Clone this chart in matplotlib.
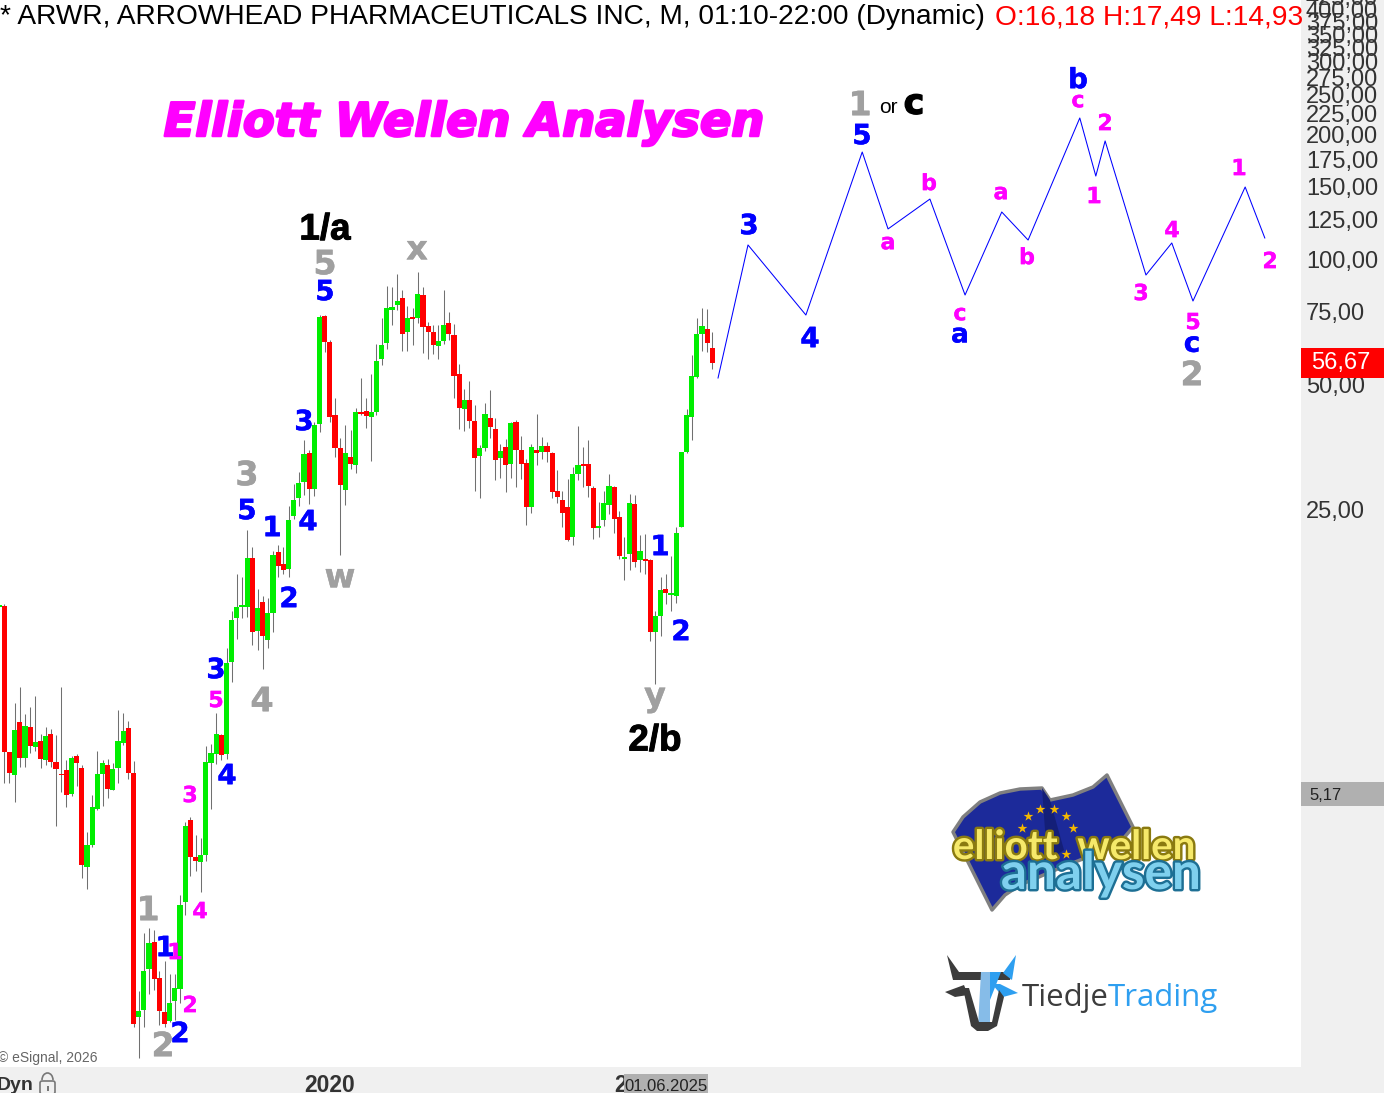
import matplotlib
matplotlib.use('Agg')
import numpy as np
import matplotlib.pyplot as plt
import matplotlib.patheffects as pe
from matplotlib.patches import Polygon, Rectangle, FancyBboxPatch, Arc
from matplotlib.ticker import FixedLocator, FuncFormatter, NullLocator

plt.rcParams['font.family'] = ['Liberation Sans', 'DejaVu Sans']

# monthly candles, first bar is number 0
opens = [14.6,14.68,6.546,5.751,7.716,6.331,7.505,6.73,6.944,6.25,7.219,6.181,5.783,5.913,5.176,6.39,5.979,3.453,3.901,4.763,
         5.783,6.079,5.292,5.979,6.868,7.464,5.815,1.503,1.562,1.961,2.278,1.866,1.545,1.47,1.642,1.755,2.844,4.481,3.65,3.55,
         3.691,6.147,6.461,7.179,6.461,10.76,13.74,14.6,14.6,19.16,12.78,15.01,12.16,14.12,19.81,18.53,18.02,24.18,26.72,29.2,
         34.29,28.09,40.28,73.31,63.46,42.34,35.26,27.93,33.54,32.09,43.05,43.29,41.87,43.05,57.75,63.11,75.79,77.92,81,67.08,
         72.9,72.5,82.36,69.35,67.08,62.07,63.82,70.51,65.98,53.14,43.77,46.01,40.95,33.73,35.26,41.64,39.17,33.36,35.45,32.26,
         40.73,34.87,32.44,25.42,34.87,34.48,35.65,34.29,27.78,26.43,25.42,21.52,30.52,32.26,32.26,28.24,22.63,23.65,25.7,28.4,
         24.05,19.05,19.59,25.85,18.95,19.05,18.95,12.71,13.89,16.13,15.6,15.52,22.75,34.48,41.87,52.27,66.34,68.21,61.39]
highs = [14.84,14.84,6.546,8.558,9.351,8.051,8.385,8.913,7.219,7.505,7.422,7.179,9.351,6.25,6.39,6.461,6.079,4.193,5.147,6.57,
         6.25,6.285,6.147,8.247,8.111,7.759,6.215,1.736,2.395,2.462,2.435,1.94,2.05,1.908,1.908,2.956,4.432,4.556,4.123,4.055,
         6.755,6.83,8.111,7.219,11.63,14.28,17.53,17.24,22.38,20.36,16.13,15.52,15.35,19.92,20.59,20.36,25.56,28.88,30.86,36.86,
         34.87,40.73,73.71,73.71,64.17,46.52,37.27,40.05,38.96,44.01,51.98,46.52,53.14,62.76,72.5,86.57,86.09,92.53,84.67,77.49,
         76.63,93.56,86.09,70.91,69.74,69.74,84.67,74.95,70.12,56.17,48.9,51.12,44.75,35.85,45.25,48.63,41.64,36.05,37.06,40.73,
         41.18,37.68,33.17,36.05,42.57,37.47,36.45,34.48,31.21,27.78,29.69,31.73,39.83,35.45,36.86,28.56,26.13,27.78,30.52,28.56,
         24.86,21.52,27.32,27.17,21.76,21.88,19.05,14.28,17.24,17.53,19.37,22.75,34.48,43.77,59.05,72.5,76.63,76.21,67.08]
lows = [14.6,5.491,5.512,4.961,6.023,6.023,6.509,6.57,5.99,6.079,6.023,4.334,5.234,4.816,5.119,5.411,3.249,3.056,3.858,4.737,
        4.843,5.063,5.292,5.502,6.792,5.625,1.425,1.197,1.422,1.707,1.746,1.438,1.422,1.462,1.478,1.624,2.646,3.285,3.377,3.006,
        3.57,4.763,6.113,6.25,6.285,9.632,12.23,13.74,13.84,11.83,11.5,10.35,11.63,12.71,17.24,17.53,17.24,23.78,25.56,27.17,
        25.85,27.02,38.53,60.04,40.73,33.54,19.48,25.7,31.38,30.69,42.34,39.39,32.81,42.34,55.86,61.05,69.74,75.79,60.37,60.37,
        62.42,70.51,59.71,57.75,59.38,57.75,62.76,64.17,46.52,39.17,38.74,39.39,27.78,26.72,34.68,37.27,29.52,29.85,27.62,29.85,
        28.4,29.69,23,24.59,32.09,33.17,32.62,26.72,25.99,22.75,21.05,20.59,29.52,28.4,26.87,21.29,21.52,22.88,24.45,22.01,
        19.05,16.96,17.92,18.23,17.73,17.53,12.09,9.526,12.43,14.84,14.28,14.93,22.75,34.29,36.86,51.98,60.37,60.04,54.74]
closes = [14.76,6.546,5.826,7.381,6.331,7.547,6.767,6.906,6.285,7.14,6.193,5.946,5.741,5.147,6.32,6.147,3.492,3.901,4.816,5.783,
          6.147,5.322,5.946,6.944,7.34,5.815,1.446,1.554,1.94,2.266,1.856,1.554,1.446,1.624,1.765,2.797,4.334,3.65,3.57,3.691,
          6.181,6.497,7.219,6.426,10.7,13.58,14.6,14.76,19.16,12.71,14.52,12.43,14.12,19.48,18.33,17.92,23.65,26.43,29.04,34.1,
          28.09,40.05,72.9,63.46,41.87,35.26,28.72,34.29,32.26,43.05,42.57,42.1,43.05,57.12,62.42,76.63,77.06,79.66,66.34,72.5,
          72.1,82.82,68.97,67.08,62.42,63.82,69.74,66.34,52.56,44.01,46.01,40.95,33.36,35.26,42.57,39.61,32.99,34.68,32.09,40.5,
          34.87,32.26,25.42,35.45,34.29,35.65,34.48,27.62,26.87,24.59,21.17,30.52,32.09,31.91,28.56,22.63,22.88,25.99,28.56,23.78,
          19.37,19.26,25.99,18.74,19.92,18.84,12.71,13.89,16.04,15.78,15.78,22.01,34.48,42.34,52.56,66.34,69.35,63.11,56.49]
bar_no = list(range(len(opens)))

# projected wave count (bar number, price)
wave_x = [139.1,144.9,156.1,167,172,180.1,186.9,194,199.1,209.1,212.2,214,221.9,226.9,231,241.1,244.9]
wave_p = [51.98,108.7,73.71,182,118.8,140.2,82.36,130.5,111.7,219.8,159.3,193.5,92.02,109.9,79.66,149.9,113]

price_ticks = [25,50,75,100,125,150,175,200,225,250,275,300,325,350,375,400]
year_ticks = [64,124]
year_labels = ['2020','2025']
last_price = 56.67
prev_mark = 5.17

BLUE = '#0000ff'
PINK = '#ff00ff'
GRAY = '#a0a0a0'
BLACK = '#000000'

# (text, colour, x, y, size, stroke)
wave_labels = [
    ('5',GRAY,325,262,24,.3),('x',GRAY,417,250,24,.3),('3',GRAY,247,473,24,.3),('w',GRAY,340,578,24,.3),
    ('4',GRAY,262,699,24,.3),('1',GRAY,148,908,24,.3),('2',GRAY,163,1044,24,.3),('y',GRAY,655,702,24,.3),
    ('1',GRAY,860,103,24,.3),('2',GRAY,1192,373,24,.3),
    ('1/a',BLACK,325,226,26.5,.7),('2/b',BLACK,655,737,26.5,.7),('c',BLACK,914,104,25,1),
    ('5',BLUE,325,290,20,.3),('3',BLUE,304,420,20,.3),('5',BLUE,247,509,20,.3),('1',BLUE,272,526,20,.3),
    ('4',BLUE,308,520,20,.3),('2',BLUE,289,597,20,.3),('3',BLUE,216,668,20,.3),('4',BLUE,227,774,20,.3),
    ('1',BLUE,165,946,20,.3),('2',BLUE,180,1032,20,.3),('1',BLUE,660,545,20,.3),('2',BLUE,681,630,20,.3),
    ('3',BLUE,749,224,20,.3),('4',BLUE,810,337,20,.3),('5',BLUE,862,134,20,.3),('b',BLUE,1078,78,20,.3),
    ('a',BLUE,960,335,19,.3),('c',BLUE,1192,344,20,.3),
    ('5',PINK,216,699,16,.2),('3',PINK,190,794,16,.2),('4',PINK,200,910,16,.2),('1',PINK,175,951,16,.2),
    ('2',PINK,190,1004,16,.2),('a',PINK,888,243,16,.2),('b',PINK,929,182,16,.2),('c',PINK,960,314,16,.2),
    ('a',PINK,1001,193,16,.2),('b',PINK,1027,256,16,.2),('c',PINK,1078,101,16,.2),('2',PINK,1105,122,16,.2),
    ('1',PINK,1094,195,16,.2),('3',PINK,1141,292,16,.2),('4',PINK,1172,229,16,.2),('1',PINK,1239,167,16,.2),
    ('2',PINK,1270,260,16,.2),('5',PINK,1193,321,16,.2),
]


def price_to_px(p):
    return 260 - 125 * np.log2(p / 100)


def px_to_bar(px):
    return 1 + (px - 4.33) / 5.168


def px_to_price(py):
    return 100 * 2 ** ((260 - py) / 125)


fig = plt.figure(figsize=(13.84, 10.93), dpi=100, facecolor='#f0f0f0')
ax = fig.add_axes([0, 26 / 1093, 1301 / 1384, 1067 / 1093])
ax.set_yscale('log')
ax.set_xlim(px_to_bar(0), px_to_bar(1301))
ax.set_ylim(px_to_price(1067), px_to_price(0))
for s in ax.spines.values():
    s.set_visible(False)

colors = ['#00ee00' if c >= o else '#ff0000' for o, c in zip(opens, closes)]
bottoms = [min(o, c) for o, c in zip(opens, closes)]
heights = [abs(c - o) for o, c in zip(opens, closes)]
ax.vlines(bar_no, lows, highs, color='#707070', lw=0.75, zorder=1)
ax.bar(bar_no, heights, bottom=bottoms, width=1.0, color=colors, linewidth=0, antialiased=False, zorder=2)
ax.plot(wave_x, wave_p, color=BLUE, lw=0.75, zorder=3)

ax.yaxis.tick_right()
ax.yaxis.set_major_locator(FixedLocator(price_ticks))
ax.yaxis.set_minor_locator(NullLocator())
ax.yaxis.set_major_formatter(FuncFormatter(lambda v, pos: ('%.2f' % v).replace('.', ',')))
ax.tick_params(axis='y', which='major', length=0, pad=3.5, labelsize=17, labelcolor='#333333')
ax.set_xticks(year_ticks)
ax.set_xticklabels(year_labels, fontweight='bold')
ax.tick_params(axis='x', length=0, pad=5, labelsize=16.5, labelcolor='#333333')

# overlay in pixels for the notes, tags and logos
ov = fig.add_axes([0, 0, 1, 1], zorder=5)
ov.set_xlim(0, 1384)
ov.set_ylim(1093, 0)
ov.axis('off')

ov.text(0, 24, '* ARWR, ARROWHEAD PHARMACEUTICALS INC, M, 01:10-22:00 (Dynamic)', fontsize=20.25, color='#000000', va='baseline')
ov.text(995, 24, 'O:16,18 H:17,49 L:14,93', fontsize=20.25, color='#ff0000', va='baseline')
ov.text(1305, -1, '425,00', fontsize=17, color='#333333', va='center')

ov.text(464, 136, 'Elliott Wellen Analysen', fontsize=33.3, color=PINK, fontweight='bold', style='oblique',
        family='DejaVu Sans', ha='center', va='baseline', path_effects=[pe.withStroke(linewidth=1.8, foreground=PINK)])

for txt, col, x, y, size, st in wave_labels:
    k = 0.365
    if txt in ('a', 'c', 'x', 'w'):
        k = 0.28
    if txt == 'y':
        k = 0.12
    fam = 'DejaVu Sans'
    if col == BLACK and txt != 'c':
        fam = 'Liberation Sans'
    base = y + k * size * 100 / 72
    ov.text(x, base, txt, color=col, fontsize=size, fontweight='bold', family=fam, ha='center', va='baseline',
            path_effects=[pe.withStroke(linewidth=st, foreground=col)])
ov.text(888, 113, 'or', color=BLACK, fontsize=15, ha='center', va='baseline')

ov.text(-2, 1062, '\u00a9 eSignal, 2026', fontsize=10, color='#666666', va='baseline')
ov.text(-3, 1090, 'Dyn', fontsize=14, fontweight='bold', color='#333333', va='baseline')
ov.add_patch(FancyBboxPatch((40, 1081), 15, 13, boxstyle='round,pad=0,rounding_size=2', fc='none', ec='#777777', lw=1.2))
ov.add_patch(Arc((47.5, 1080), 11, 14, theta1=180, theta2=360, ec='#777777', lw=1.2))
ov.add_patch(Rectangle((46.5, 1086), 2, 5, fc='#777777', ec='none'))

# price tags
ty = price_to_px(last_price)
ov.add_patch(Rectangle((1301, ty - 14.5), 83, 30, fc='#ff0000', ec='none'))
ov.text(1341, ty + 1, ('%.2f' % last_price).replace('.', ','), color='white', fontsize=17, ha='center', va='center')
ty = price_to_px(prev_mark)
ov.add_patch(Rectangle((1301, ty - 12), 83, 24, fc='#b0b0b0', ec='none'))
ov.text(1309, ty + 1, ('%.2f' % prev_mark).replace('.', ','), color='#222222', fontsize=12, va='center')

# date tag
ov.add_patch(Rectangle((624, 1074), 84, 19, fc='#b0b0b0', ec='none'))
ov.text(666, 1091, '01.06.2025', color='#222222', fontsize=12, ha='center', va='baseline')

# flag logo
flag = [(953,832),(963,817),(980,802),(1000,793),(1020,789),(1042,788),(1050,800),(1073,795),(1093,787),(1107,775),
        (1133,827),(1118,845),(1060,868),(1020,885),(1005,895),(992,910),(972,870)]
ov.add_patch(Polygon(flag, closed=True, fc='#1c2a9a', ec='#808080', lw=2.5, joinstyle='round'))
ov.add_patch(Polygon([(1042,788),(1050,800),(1064,850),(1050,860),(1045,830)], closed=True, fc='#141f78', ec='none'))
stars = [(1028,816),(1040,809),(1054,809),(1066,816),(1073,828),(1022,828),(1066,854)]
ov.scatter([s[0] for s in stars], [s[1] for s in stars], marker='*', s=55, color='#f5b800', linewidths=0, zorder=3)
ov.text(1074, 859, 'elliott  wellen', fontsize=29, color='#f6e96a', ha='center', va='baseline', fontweight='bold',
        family='Lato', zorder=4, path_effects=[pe.withStroke(linewidth=3.5, foreground='#8a7a10')])
ov.text(1101, 889, 'analysen', fontsize=37, color='#7fd0ee', ha='center', va='baseline', fontweight='bold',
        family='Lato', zorder=4, path_effects=[pe.withStroke(linewidth=3.5, foreground='#1d6f94')])

# tiedje logo
dark = '#3c3c3c'
ov.add_patch(Polygon([(947,955),(959,972),(1003,972),(1012,973),(1010,980),(953,980),(951,972)], closed=True, fc=dark, ec='none'))
ov.add_patch(Polygon([(1016,955),(1012,980),(1003,973)], closed=True, fc='#2e9ff0', ec='none'))
ov.add_patch(Polygon([(981,972),(1000,972),(990,982),(990,1026),(978,1026)], closed=True, fc='#86bce8', ec='none'))
ov.add_patch(Polygon([(990,972),(1001,972),(990,1000)], closed=True, fc='#2e9ff0', ec='none'))
ov.add_patch(Polygon([(945,992),(964,985),(968,995),(955,997)], closed=True, fc=dark, ec='none'))
ov.add_patch(Polygon([(992,984),(1000,984),(1018,993),(1003,997)], closed=True, fc='#2e9ff0', ec='none'))
ov.add_patch(Polygon([(963,988),(969,988),(979,1022),(992,1022),(999,990),(1004,997),(997,1026),(988,1031),(977,1031),(971,1026)],
                     closed=True, fc=dark, ec='none'))
ov.text(1022, 1006, 'Tiedje', fontsize=22.5, color=dark, family='Open Sans', va='baseline')
ov.text(1108, 1006, 'Trading', fontsize=22.5, color='#2e9ff0', family='Open Sans', va='baseline')

fig.savefig('out.png', dpi=100, facecolor=fig.get_facecolor())
